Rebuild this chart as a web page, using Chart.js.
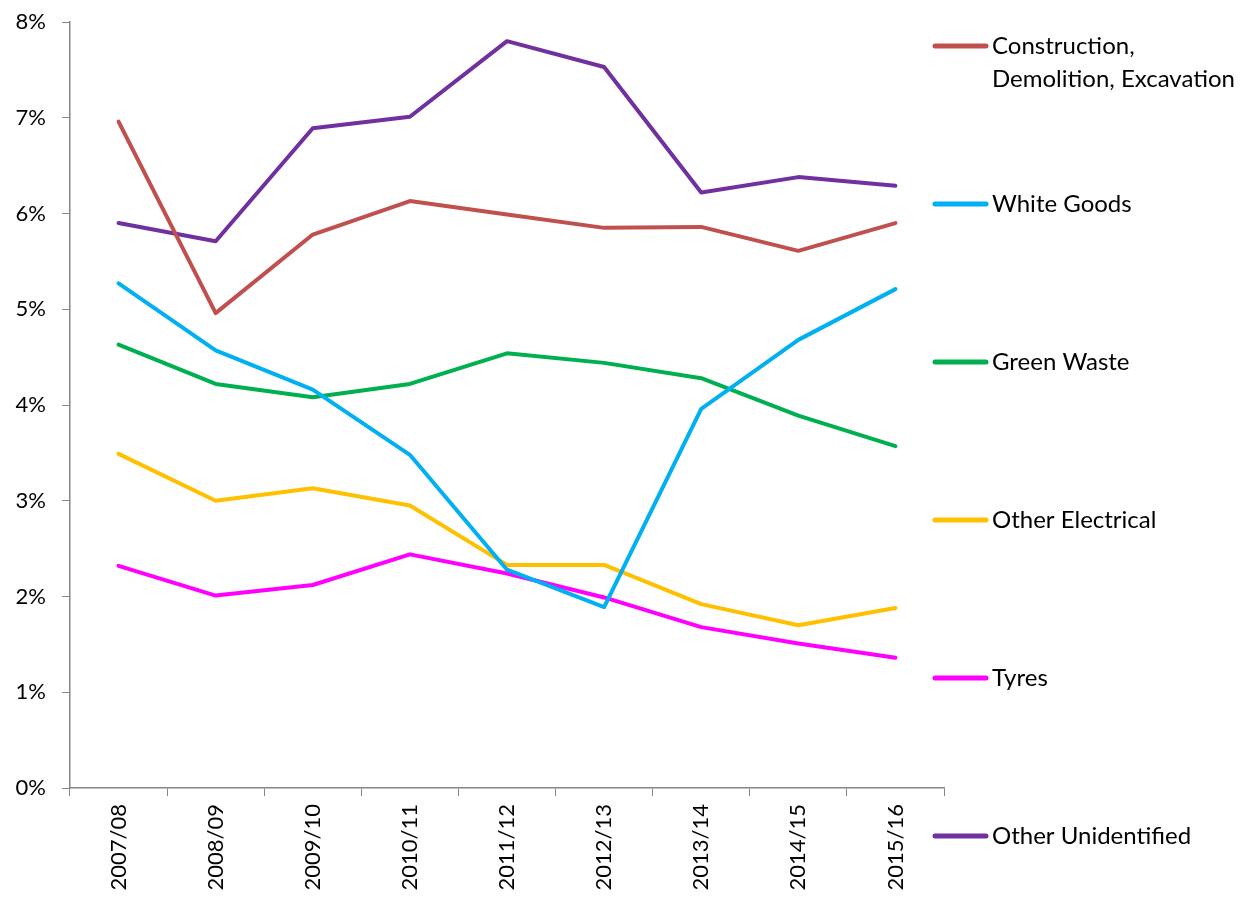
<!DOCTYPE html>
<html>
<head>
<meta charset="utf-8">
<script src="https://cdn.jsdelivr.net/npm/chart.js@4.4.1/dist/chart.umd.min.js"></script>
<style>
  html, body { margin: 0; padding: 0; background: #fff; }
  #wrap { width: 1244px; height: 897px; position: relative; }
</style>
</head>
<body>
<div id="wrap"><canvas id="waste-chart"></canvas></div>
<script>
const years = ['2007/08', '2008/09', '2009/10', '2010/11', '2011/12', '2012/13', '2013/14', '2014/15', '2015/16'];

const construction = [6.96, 4.96, 5.78, 6.13, 5.99, 5.85, 5.86, 5.61, 5.90];
const whiteGoods   = [5.27, 4.57, 4.16, 3.48, 2.28, 1.89, 3.96, 4.68, 5.21];
const greenWaste   = [4.63, 4.22, 4.08, 4.22, 4.54, 4.44, 4.28, 3.89, 3.57];
const otherElec    = [3.49, 3.00, 3.13, 2.95, 2.33, 2.33, 1.92, 1.70, 1.88];
const tyres        = [2.32, 2.01, 2.12, 2.44, 2.24, 1.99, 1.68, 1.51, 1.36];
const otherUnid    = [5.90, 5.71, 6.89, 7.01, 7.80, 7.53, 6.22, 6.38, 6.29];

const seriesNames  = [['Construction,', 'Demolition, Excavation'], 'White Goods', 'Green Waste', 'Other Electrical', 'Tyres', 'Other Unidentified'];
const seriesData   = [construction, whiteGoods, greenWaste, otherElec, tyres, otherUnid];
const seriesColors = ['#C0504D', '#00B0F0', '#00B050', '#FFC000', '#FF00FF', '#7030A0'];

const FONT = "'Lato', 'Open Sans', sans-serif";
const AXIS_GREY = '#868686';

// legend on the right, one entry every 158px
const sideLegend = {
  id: 'sideLegend',
  afterDraw(chart) {
    const { ctx } = chart;
    ctx.save();
    ctx.font = `24px ${FONT}`;
    ctx.textBaseline = 'middle';
    ctx.textAlign = 'left';
    seriesNames.forEach((name, i) => {
      const y = 46 + i * 158;
      ctx.strokeStyle = seriesColors[i];
      ctx.lineWidth = 5;
      ctx.lineCap = 'round';
      ctx.beginPath();
      ctx.moveTo(935, y);
      ctx.lineTo(986, y);
      ctx.stroke();
      ctx.fillStyle = '#000';
      const lines = Array.isArray(name) ? name : [name];
      lines.forEach((t, j) => ctx.fillText(t, 992, y + j * 33));
    });
    ctx.restore();
  }
};

new Chart(document.getElementById('waste-chart'), {
  type: 'line',
  data: {
    labels: years,
    datasets: seriesData.map((d, i) => ({
      label: Array.isArray(seriesNames[i]) ? seriesNames[i].join(' ') : seriesNames[i],
      data: d,
      borderColor: seriesColors[i],
      backgroundColor: seriesColors[i],
      borderWidth: 4,
      pointRadius: 0,
      tension: 0,
      borderCapStyle: 'round',
      borderJoinStyle: 'round',
    })),
  },
  options: {
    animation: false,
    responsive: true,
    maintainAspectRatio: false,
    layout: { padding: { top: 22, right: 300, left: 0, bottom: 0 } },
    plugins: {
      legend: { display: false },
      tooltip: { enabled: false },
    },
    scales: {
      x: {
        offset: true,
        grid: {
          offset: true,
          drawOnChartArea: false,
          drawTicks: true,
          tickLength: 8,
          color: AXIS_GREY,
        },
        border: { color: AXIS_GREY, width: 1.5 },
        ticks: {
          color: '#000',
          font: { family: FONT, size: 22 },
          maxRotation: 90,
          minRotation: 90,
          padding: 8,
        },
        afterFit(scale) { scale.height = 109; },
      },
      y: {
        min: 0,
        max: 8,
        grid: {
          drawOnChartArea: false,
          drawTicks: true,
          tickLength: 8,
          color: AXIS_GREY,
        },
        border: { color: AXIS_GREY, width: 1.5 },
        ticks: {
          stepSize: 1,
          color: '#000',
          font: { family: FONT, size: 22 },
          padding: 16,
          callback: v => v + '%',
        },
        afterFit(scale) {
          scale.width = 70;
          // top/bottom room is set by layout padding instead
          scale.paddingTop = 0;
          scale.paddingBottom = 0;
        },
      },
    },
  },
  plugins: [sideLegend],
});
</script>
</body>
</html>
